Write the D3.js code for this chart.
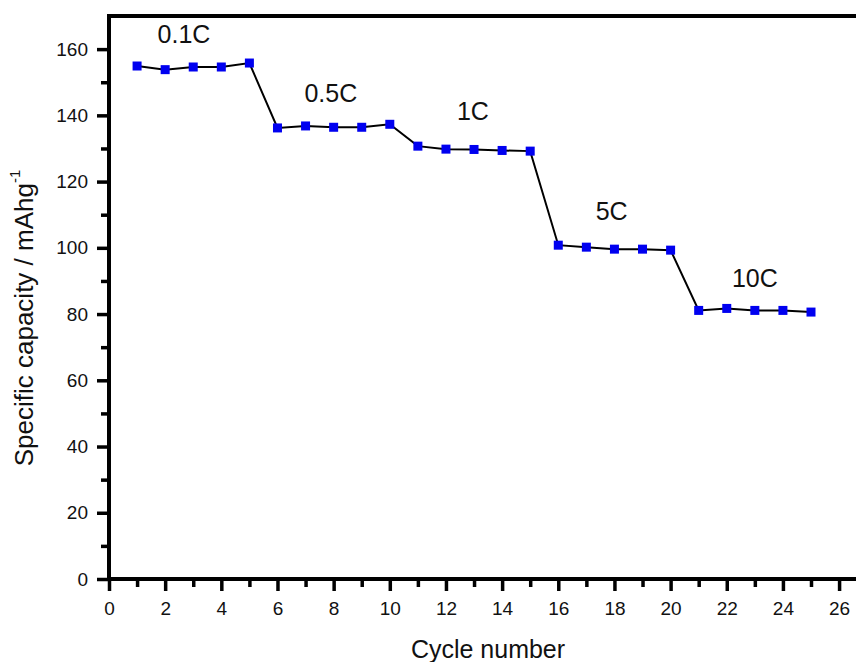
<!DOCTYPE html>
<html>
<head>
<meta charset="utf-8">
<script src="https://cdn.jsdelivr.net/npm/d3@7"></script>
<style>
  body { margin: 0; background: #fff; }
  svg text { font-family: Arial, "Liberation Sans", sans-serif; fill: #111; }
</style>
</head>
<body>
<div id="chart"></div>
<script>
// chart size
const width = 856; const height = 662;
const margin = {top: 16, left: 109, bottom: 83};

// data
const cycles = [1, 2, 3, 4, 5, 6, 7, 8, 9, 10, 11, 12, 13, 14, 15, 16, 17, 18, 19, 20, 21, 22, 23, 24, 25];
const capacity = [154.9, 153.8, 154.6, 154.6, 155.8, 136.2, 136.8, 136.4, 136.4, 137.3,
                  130.7, 129.8, 129.7, 129.4, 129.2, 100.8, 100.2, 99.6, 99.6, 99.3,
                  81.1, 81.7, 81.1, 81.1, 80.6];
const rateLabels = ["0.1C", "0.5C", "1C", "5C", "10C"];
const rateX = [2.67, 7.9, 12.96, 17.9, 23.0];
const rateY = [161.8, 144.0, 138.6, 108.4, 88.2];
const xTicks = d3.range(0, 27, 2);
const yTicks = d3.range(0, 161, 20);

let svg = d3.select('#chart')
    .append('svg')
        .attr('width', width)
        .attr('height', height);

const x_scale = d3.scaleLinear()
    .domain([0, 27])
    .range([margin.left, margin.left + 27 * 28.08]);
const y_scale = d3.scaleLinear()
    .domain([0, 170])
    .range([height - margin.bottom, margin.top]);

// minor ticks
svg.append('g')
    .attr('transform', `translate(0, ${y_scale(0)})`)
    .call(d3.axisBottom(x_scale).tickValues(d3.range(1, 27, 2)).tickSize(8).tickFormat(''))
    .call(g => g.select('.domain').remove());
svg.append('g')
    .attr('transform', `translate(${x_scale(0)}, 0)`)
    .call(d3.axisLeft(y_scale).tickValues(d3.range(10, 170, 20)).tickSize(8).tickFormat(''))
    .call(g => g.select('.domain').remove());

// major ticks
const x_axis = svg.append('g')
    .attr('transform', `translate(0, ${y_scale(0)})`)
    .call(d3.axisBottom(x_scale).tickValues(xTicks).tickSize(12).tickPadding(11).tickSizeOuter(0));
const y_axis = svg.append('g')
    .attr('transform', `translate(${x_scale(0)}, 0)`)
    .call(d3.axisLeft(y_scale).tickValues(yTicks).tickSize(12).tickPadding(9).tickSizeOuter(0));

svg.selectAll('.tick line').attr('stroke', '#000').attr('stroke-width', 3.5);
x_axis.selectAll('text').attr('font-size', 19).attr('fill', '#111');
y_axis.selectAll('text').attr('font-size', 19).attr('fill', '#111');

// frame: left, bottom, top
svg.append('line')
    .attr('x1', x_scale(0)).attr('x2', x_scale(0))
    .attr('y1', y_scale(170) - 2).attr('y2', y_scale(0) + 2)
    .attr('stroke', '#000').attr('stroke-width', 4);
svg.append('line')
    .attr('x1', x_scale(0)).attr('x2', width)
    .attr('y1', y_scale(0)).attr('y2', y_scale(0))
    .attr('stroke', '#000').attr('stroke-width', 4);
svg.append('line')
    .attr('x1', x_scale(0) - 2).attr('x2', width)
    .attr('y1', y_scale(170)).attr('y2', y_scale(170))
    .attr('stroke', '#000').attr('stroke-width', 4);
svg.selectAll('.domain').remove();

// line and markers
const points = cycles.map((c, i) => ({cycle: c, value: capacity[i]}));
const line = d3.line()
    .x(d => x_scale(d.cycle))
    .y(d => y_scale(d.value));
svg.append('path')
    .datum(points)
    .attr('d', line)
    .attr('fill', 'none')
    .attr('stroke', '#000')
    .attr('stroke-width', 2);
const mark = 9;
svg.append('g')
    .selectAll('rect')
    .data(points)
    .join('rect')
        .attr('x', d => x_scale(d.cycle) - mark / 2)
        .attr('y', d => y_scale(d.value) - mark / 2)
        .attr('width', mark)
        .attr('height', mark)
        .attr('fill', '#0000f0');

// rate labels
svg.append('g')
    .selectAll('text')
    .data(rateLabels)
    .join('text')
        .attr('x', (d, i) => x_scale(rateX[i]))
        .attr('y', (d, i) => y_scale(rateY[i]))
        .attr('text-anchor', 'middle')
        .attr('font-size', 25)
        .text(d => d);

// axis titles
svg.append('text')
    .attr('x', 488)
    .attr('y', 658)
    .attr('text-anchor', 'middle')
    .attr('font-size', 25)
    .text('Cycle number');
const ytitle = svg.append('text')
    .attr('transform', `translate(33, 318) rotate(-90)`)
    .attr('text-anchor', 'middle')
    .attr('font-size', 26);
ytitle.append('tspan').text('Specific capacity / mAhg');
ytitle.append('tspan').attr('font-size', 15).attr('dy', -13).text('-1');
</script>
</body>
</html>
